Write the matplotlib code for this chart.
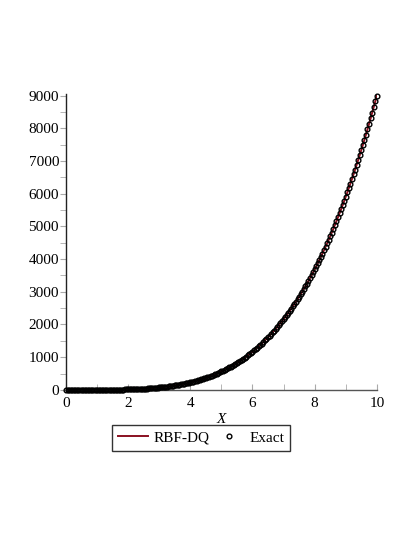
import numpy as np
import matplotlib
matplotlib.use("Agg")
import matplotlib.pyplot as plt
from matplotlib.ticker import MultipleLocator

# sample grid, step 0.05 from 0 to 10
x = np.linspace(0, 10, 201)

# values (RBF-DQ and exact overlap everywhere)
y_exact = [
    0, 0, 0, 0, 0, 0, 0, 0, 0, 0,
    0, 0, 0, 0, 0, 0, 0, 0, 1, 1,
    1, 1, 1, 2, 2, 2, 3, 3, 3, 4,
    5, 5, 6, 7, 8, 8, 9, 11, 12, 13,
    14, 16, 18, 19, 21, 23, 25, 27, 30, 32,
    35, 38, 41, 44, 48, 51, 55, 59, 64, 68,
    73, 78, 83, 89, 94, 100, 107, 113, 120, 128,
    135, 143, 151, 160, 169, 178, 188, 198, 208, 219,
    230, 242, 254, 267, 280, 294, 308, 322, 337, 353,
    369, 386, 403, 421, 439, 458, 478, 498, 519, 540,
    563, 585, 609, 633, 658, 684, 710, 737, 765, 794,
    824, 854, 885, 917, 950, 984, 1018, 1054, 1091, 1128,
    1166, 1206, 1246, 1287, 1330, 1373, 1418, 1463, 1510, 1558,
    1607, 1657, 1708, 1760, 1814, 1868, 1924, 1982, 2040, 2100,
    2161, 2223, 2287, 2352, 2419, 2487, 2556, 2627, 2699, 2772,
    2848, 2924, 3003, 3082, 3164, 3247, 3331, 3418, 3506, 3595,
    3686, 3779, 3874, 3971, 4069, 4169, 4271, 4375, 4481, 4588,
    4698, 4810, 4923, 5039, 5156, 5276, 5397, 5521, 5647, 5775,
    5905, 6037, 6172, 6309, 6448, 6589, 6732, 6878, 7027, 7177,
    7331, 7486, 7644, 7805, 7968, 8133, 8301, 8472, 8645, 8821,
    9000,
]
y_rbf = y_exact

plt.rcParams['font.family'] = ['Liberation Serif', 'DejaVu Serif']
plt.rcParams['font.size'] = 10

fig = plt.figure(figsize=(4.15, 5.37), dpi=100)
ax = fig.add_axes([0.159, 0.274, 0.749, 0.551])

ax.plot(x, y_rbf, color='#8a1020', lw=1.4, label='RBF-DQ', zorder=2)
ax.plot(x, y_exact, ls='none', marker='o', ms=3.4, mfc='none',
        mec='black', mew=1.0, label='Exact', zorder=3, clip_on=False)

ax.set_xlim(0, 10)
ax.set_ylim(0, 9050)
ax.xaxis.set_major_locator(MultipleLocator(2))
ax.xaxis.set_minor_locator(MultipleLocator(1))
ax.yaxis.set_major_locator(MultipleLocator(1000))
ax.yaxis.set_minor_locator(MultipleLocator(500))

ax.spines['top'].set_visible(False)
ax.spines['right'].set_visible(False)
ax.spines['left'].set_linewidth(1.0)
ax.spines['bottom'].set_linewidth(1.0)
ax.spines['left'].set_color('#222222')
ax.spines['bottom'].set_color('#555555')

ax.tick_params(axis='x', which='both', direction='in', color='#aaaaaa',
               length=4, pad=5, labelsize=11)
ax.tick_params(axis='y', which='both', direction='out', color='#aaaaaa',
               length=4, pad=1, labelsize=11)

ax.set_xlabel('X', fontstyle='italic', fontsize=11, labelpad=2)

leg = ax.legend(loc='upper center', bbox_to_anchor=(0.434, -0.118), ncol=2,
                frameon=True, fancybox=False, fontsize=11,
                handlelength=2.0, columnspacing=0.25, handletextpad=0.35,
                borderpad=0.4, borderaxespad=0)
leg.get_frame().set_edgecolor('black')
leg.get_frame().set_linewidth(1.0)

fig.savefig('out.png', dpi=100)
